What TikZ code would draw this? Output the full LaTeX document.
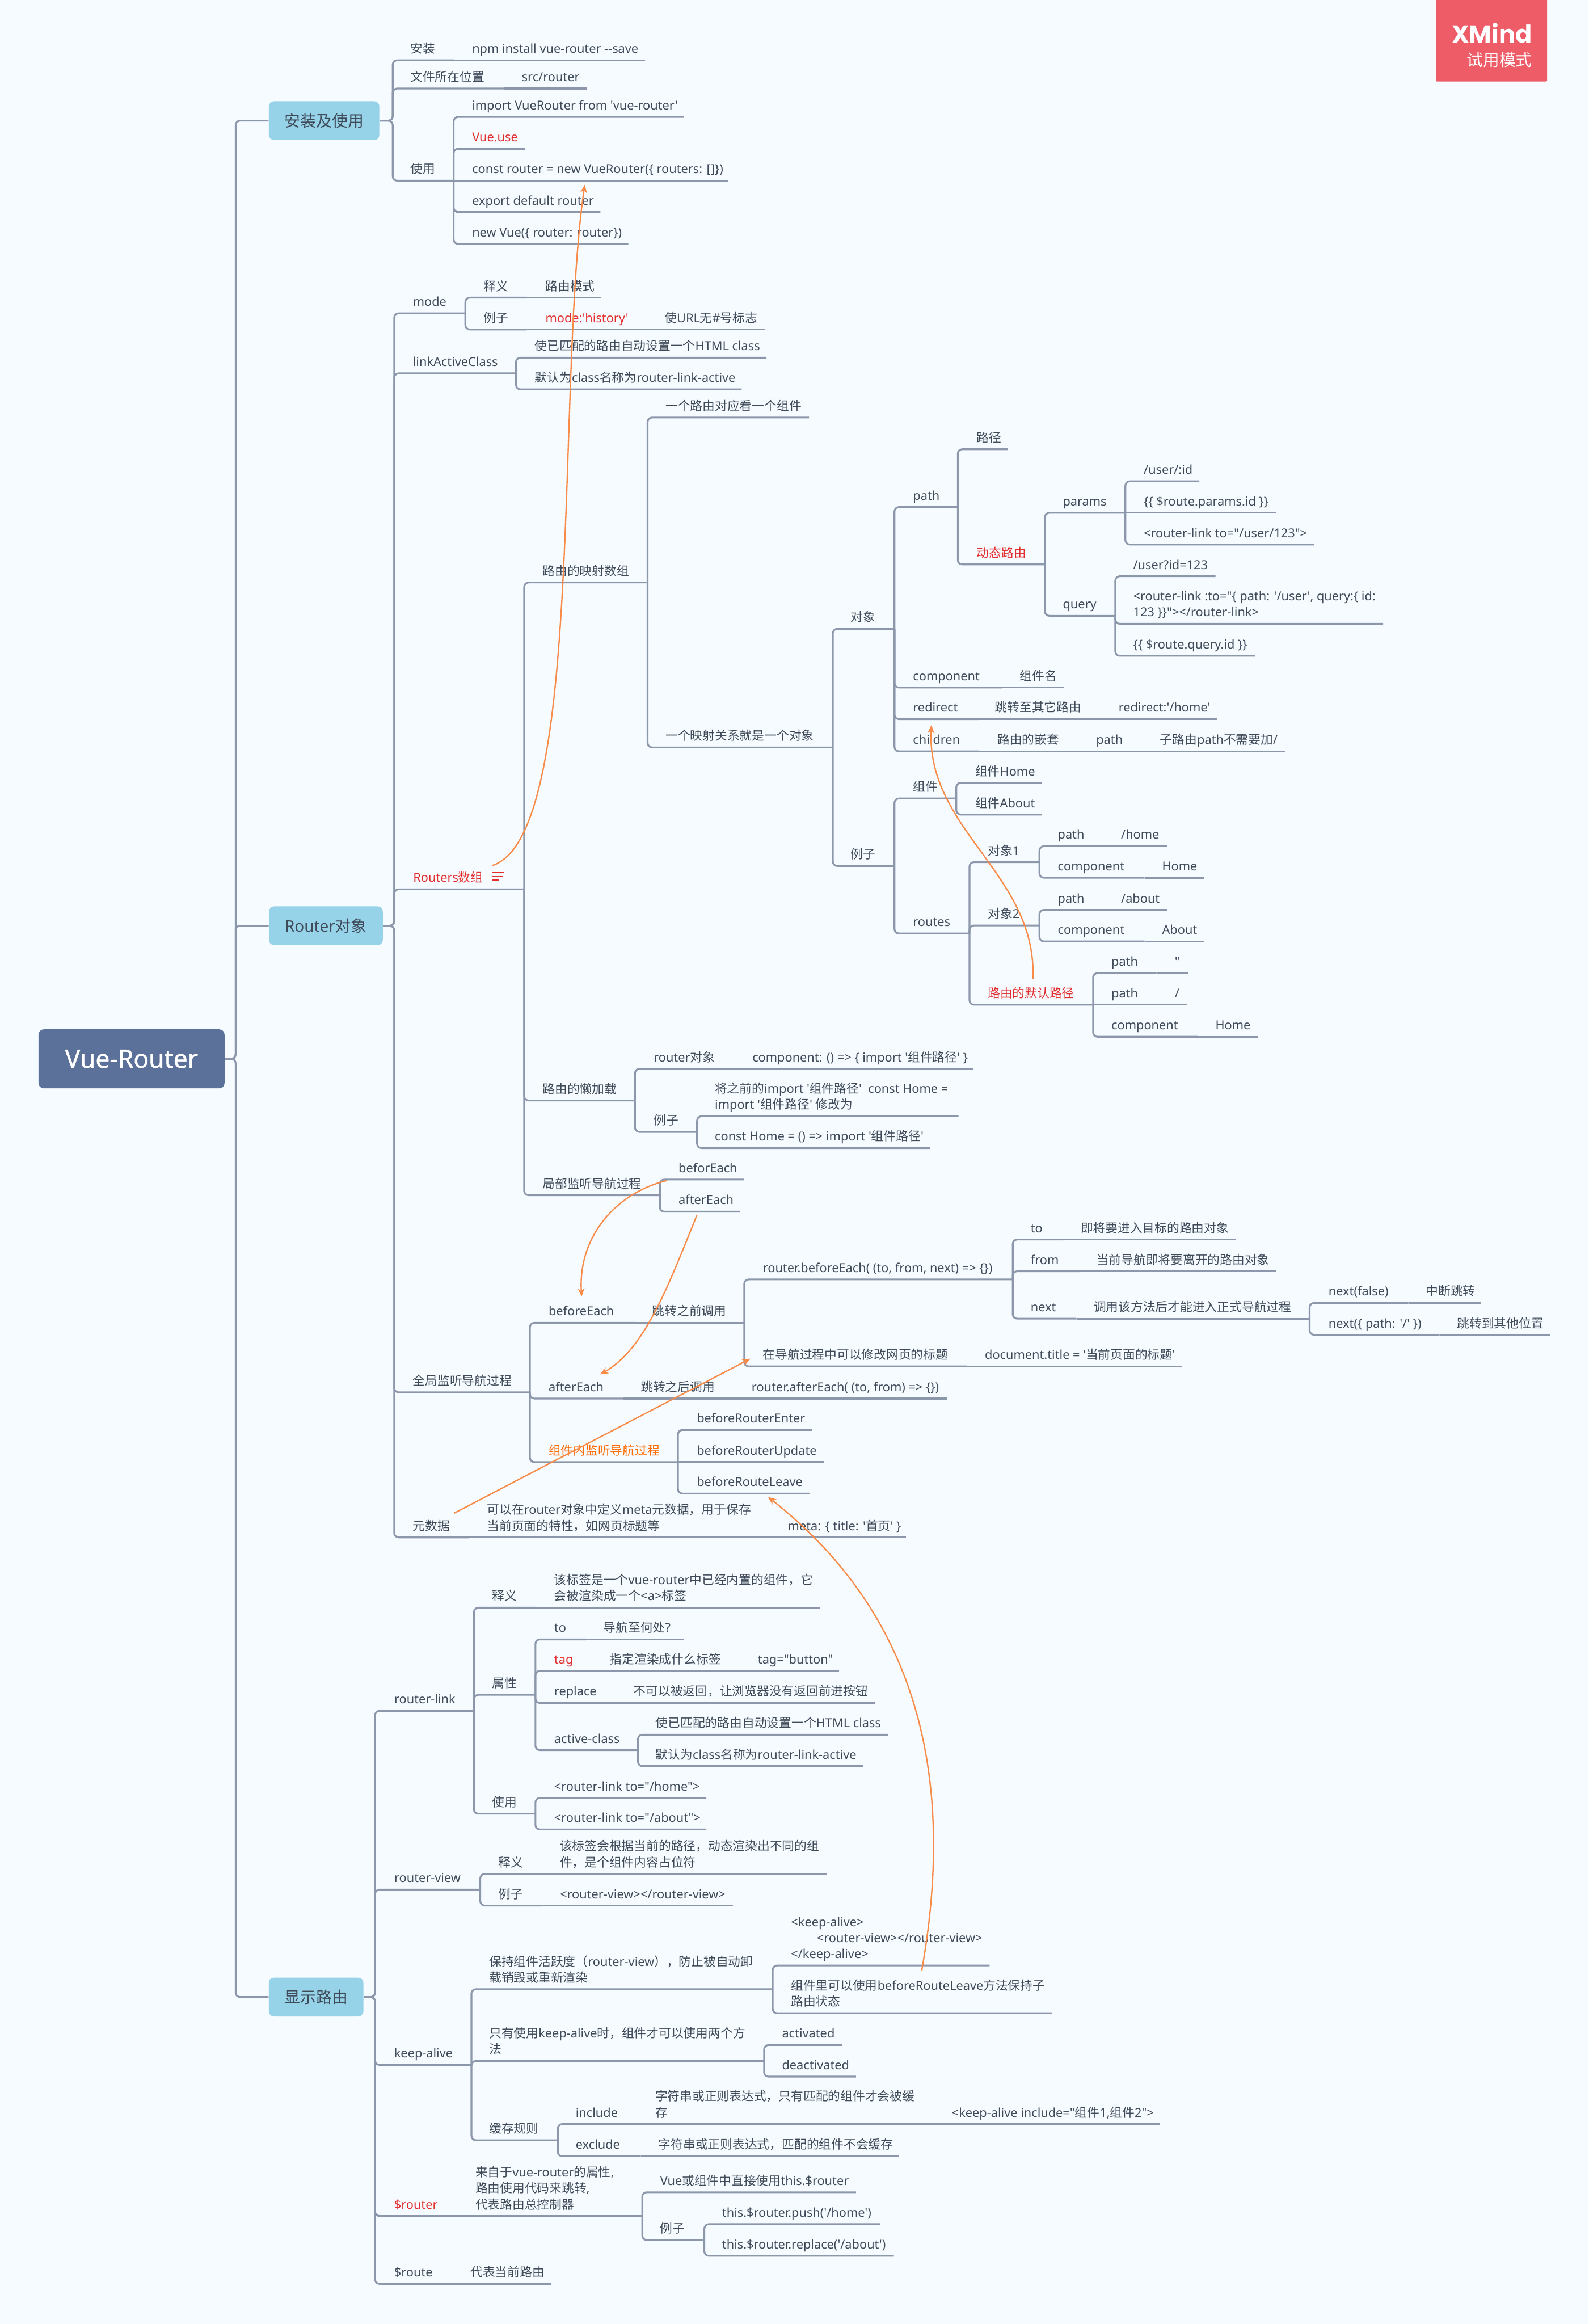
\documentclass[tikz,border=0pt]{standalone}
\usepackage{fontspec}
\usetikzlibrary{arrows.meta}
\setmainfont{Noto Sans}
\newfontfamily\latinf{Noto Sans}
\newfontfamily\cjkf{Noto Sans CJK SC}
\newfontfamily\brandf{Poppins}
\newfontfamily\rootf[RawFeature={embolden=1.1}]{Noto Sans}
% CJK characters switch to the CJK font automatically
\chardef\cjkclass=50
\newcount\cjkc
\cjkc="4E00 \loop \XeTeXcharclass\cjkc=\cjkclass \advance\cjkc 1 \ifnum\cjkc<"A000 \repeat
\cjkc="3000 \loop \XeTeXcharclass\cjkc=\cjkclass \advance\cjkc 1 \ifnum\cjkc<"3040 \repeat
\cjkc="FF00 \loop \XeTeXcharclass\cjkc=\cjkclass \advance\cjkc 1 \ifnum\cjkc<"FFF0 \repeat
\XeTeXinterchartokenstate=1
\XeTeXinterchartoks 0 \cjkclass={\cjkf}
\XeTeXinterchartoks 4095 \cjkclass={\cjkf}
\XeTeXinterchartoks \cjkclass 0={\latinf}
\XeTeXinterchartoks \cjkclass 4095={\latinf}
\definecolor{bgc}{HTML}{F5FBFF}
\definecolor{linec}{HTML}{8C97AB}
\definecolor{txt}{HTML}{3F4A59}
\definecolor{orangec}{HTML}{F98B48}
\definecolor{redc}{HTML}{E32D2D}
\definecolor{orangetxt}{HTML}{FF6A00}
\definecolor{lonec}{HTML}{96D2E8}
\definecolor{rootc}{HTML}{5B7199}
\definecolor{badgec}{HTML}{EE5C68}
\tikzset{
  topic/.style={anchor=south west,inner xsep=0pt,inner ysep=4.6pt,text depth=0pt,font=\latinf\fontsize{8.33}{10}\selectfont},
  conn/.style={draw=linec,line width=1.2pt,rounded corners=3pt},
  rel/.style={draw=orangec,line width=0.9pt,-{Stealth[length=5.5pt,width=4.5pt]}},
  lone/.style={rectangle,rounded corners=3.5pt,fill=lonec,text=txt,inner sep=0pt,font=\latinf\fontsize{10.7}{12}\selectfont},
  rootnode/.style={rectangle,rounded corners=3.5pt,fill=rootc,text=white,inner sep=0pt,font=\rootf\fontsize{17}{18}\selectfont},
}
\newcommand\LL[2]{\vbox{\baselineskip=10.8pt\lineskiplimit=-20pt\hbox{#1}\hbox{#2}}}
\newcommand\LLL[3]{\vbox{\baselineskip=10.8pt\lineskiplimit=-20pt\hbox{#1}\hbox{#2}\hbox{#3}}}
% \T[colour]{name}{parent}{x0}{x1}{y}{text x}{text}
\newcommand\T[8][txt]{%
  \pgfmathsetlengthmacro\tw{#5-#4}\pgfmathsetlengthmacro\tpad{#7-#4}%
  \node[topic,text=#1] (#2) at (#4,#6) {\makebox[\tw][l]{\hspace*{\tpad}#8}};
  \pgfpointanchor{#3}{south east}\pgfgetlastxy\pxa\pya
  \pgfpointanchor{#2}{south east}\pgfgetlastxy\pxb\pyb
  \pgfmathparse{abs(\pya-\pyb)<0.1?1:0}%
  \ifnum\pgfmathresult=1
    \draw[conn] (#3.south east) -- (#2.south east);
  \else
    \draw[conn] (#3.south east) |- (#2.south east);
  \fi
}
% \U{name}{L1 parent}{stub}{x1}{y}{text x}{text}
\newcommand\U[8][txt]{%
  \pgfmathsetlengthmacro\tw{#5-#4}\pgfmathsetlengthmacro\tpad{#7-#4}%
  \node[topic,text=#1] (#2) at (#4,#6) {\makebox[\tw][l]{\hspace*{\tpad}#8}};
  \draw[conn] (#3.east) -- (#4,\ypos{#3}) |- (#2.south east);
}
\def\ypos#1{\csname ly#1\endcsname}
\def\lya{81.4}
\def\lyb{624.6}
\def\lyc{1347.4}
\begin{document}
\begin{tikzpicture}[x=1pt,y=-1pt]
\fill[bgc] (0,0) rectangle (1072,1568);
\useasboundingbox (0,0) rectangle (1072,1568);
% badge
\fill[badgec,rounded corners=0.6pt] (969,-2) rectangle (1044,55);
\node[anchor=base east,text=white,inner sep=0pt,font=\brandf\bfseries\fontsize{16.5}{18}\selectfont] (brand) at (1034,29) {XMind};
\node[anchor=base east,text=white,inner sep=0pt,font=\cjkf\fontsize{11}{12}\selectfont] (trial) at (1034,44.6) {试用模式};
% root and main topics
\node[rootnode,minimum width=125.5pt,minimum height=39.8pt] (root) at (88.75,714.4) {Vue-Router};
\node[lone,minimum width=74.6pt,minimum height=26.2pt] (a) at (218.7,81.4) {安装及使用};
\node[lone,minimum width=76.8pt,minimum height=26.2pt] (b) at (219.9,624.6) {Router对象};
\node[lone,minimum width=63.8pt,minimum height=26.2pt] (c) at (213.3,1347.4) {显示路由};
\draw[conn] (root.east) -- (159,714.4) |- (a.west);
\draw[conn] (root.east) -- (159,714.4) |- (b.west);
\draw[conn] (root.east) -- (159,714.4) |- (c.west);
% ---- 安装及使用
\U{a1}{a}{265}{306}{40.7}{276.7}{安装}
\T{a1a}{a1}{306}{434.9}{40.7}{318.4}{npm install vue-router --save}
\U{a2}{a}{265}{340}{59.7}{276.7}{文件所在位置}
\T{a2a}{a2}{340}{395.6}{59.7}{351.9}{src/router}
\U{a3}{a}{265}{305.7}{121.9}{276.7}{使用}
\T{a3a}{a3}{305.7}{460.8}{78.9}{318.4}{import VueRouter from 'vue-router'}
\T[redc]{a3b}{a3}{305.7}{353.9}{100.4}{318.4}{Vue.use}
\T{a3c}{a3}{305.7}{491.2}{121.9}{318.4}{const router = new VueRouter(\{ routers: []\})}
\T{a3d}{a3}{305.7}{404.8}{143.1}{318.4}{export default router}
\T{a3e}{a3}{305.7}{423.6}{164.6}{318.4}{new Vue(\{ router: router\})}
% ---- Router对象
\U{m}{b}{266}{313.6}{211.4}{278.4}{mode}
\T{m1}{m}{313.6}{355}{200.8}{326.2}{释义}
\T{m1a}{m1}{355}{405.5}{200.8}{367.9}{路由模式}
\T{m2}{m}{313.6}{355}{222.3}{326.2}{例子}
\T[redc]{m2a}{m2}{355}{436}{222.3}{367.9}{mode:'history'}
\T{m2b}{m2a}{436}{515.8}{222.3}{448.2}{使URL无\#号标志}
\U{l}{b}{266}{347.8}{251.9}{278.4}{linkActiveClass}
\T{l1}{l}{347.8}{516.8}{241.3}{360.7}{使已匹配的路由自动设置一个HTML class}
\T{l2}{l}{347.8}{500.1}{262.7}{360.7}{默认为class名称为router-link-active}
\U[redc]{r}{b}{266}{353.3}{600}{278.6}{Routers数组}
\draw[redc,line width=0.8pt] (332.3,588.9) -- (339.8,588.9) (332.3,591.3) -- (339,591.3) (332.3,593.8) -- (336.7,593.8);
\T{r1}{r}{353.3}{436.6}{393}{366}{路由的映射数组}
\T{r1a}{r1}{436.6}{545.5}{281.7}{449}{一个路由对应看一个组件}
\T{r1b}{r1}{436.6}{561.6}{504.3}{449}{一个映射关系就是一个对象}
\T{o}{r1b}{561.6}{603.2}{424.3}{573.9}{对象}
\T{op}{o}{603.2}{645.9}{342.1}{615.9}{path}
\T{op1}{op}{645.9}{679.8}{303.1}{658.9}{路径}
\T[redc]{op2}{op}{645.9}{704.7}{380.8}{658.9}{动态路由}
\T{par}{op2}{704.7}{759}{346}{717}{params}
\T{par1}{par}{759}{808.9}{324.7}{771.6}{/user/:id}
\T{par2}{par}{759}{860.8}{346}{771.6}{\{\{ \$route.params.id \}\}}
\T{par3}{par}{759}{886.4}{367.4}{771.6}{<router-link to="/user/123">}
\T{q}{op2}{704.7}{752.2}{415.5}{717}{query}
\T{q1}{q}{752.2}{819.8}{388.8}{764.5}{/user?id=123}
\T{q2}{q}{752.2}{932.9}{420.9}{764.5}{\LL{<router-link :to="\{ path: '/user', query:\{ id:}{123 \}\}"></router-link>}}
\T{q3}{q}{752.2}{846.5}{442.5}{764.5}{\{\{ \$route.query.id \}\}}
\T{oc}{o}{603.2}{676}{463.9}{615.9}{component}
\T{oca}{oc}{676}{717.3}{463.9}{688}{组件名}
\T{ore}{o}{603.2}{660}{485.2}{615.9}{redirect}
\T{orea}{ore}{660}{743}{485.2}{671.2}{跳转至其它路由}
\T{oreb}{orea}{743}{820.8}{485.2}{754.6}{redirect:'/home'}
\T{och}{o}{603.2}{660}{506.9}{615.9}{children}
\T{ocha}{och}{660}{727}{506.9}{672.9}{路由的嵌套}
\T{ochb}{ocha}{727}{770}{506.9}{739.5}{path}
\T{ochc}{ochb}{770}{866.6}{506.9}{782.6}{子路由path不需要加/}
\T{e}{r1b}{561.6}{603.2}{584.3}{573.9}{例子}
\T{e1}{e}{603.2}{644.9}{538.7}{615.9}{组件}
\T{e1a}{e1}{644.9}{702.6}{528.2}{657.9}{组件Home}
\T{e1b}{e1}{644.9}{702.6}{549.6}{657.9}{组件About}
\T{e2}{e}{603.2}{653.8}{629.8}{615.9}{routes}
\T{d1}{e2}{653.8}{701}{581.7}{666.4}{对象1}
\T{d1a}{d1}{701}{744}{570.9}{713.6}{path}
\T{d1b}{d1a}{744}{787}{570.9}{756.3}{/home}
\T{d1c}{d1}{701}{772}{592.2}{713.6}{component}
\T{d1d}{d1c}{772}{812}{592.2}{784}{Home}
\T{d2}{e2}{653.8}{701}{624.4}{666.4}{对象2}
\T{d2a}{d2}{701}{744}{613.9}{713.6}{path}
\T{d2b}{d2a}{744}{787}{613.9}{756.3}{/about}
\T{d2c}{d2}{701}{772}{635.2}{713.6}{component}
\T{d2d}{d2c}{772}{812}{635.2}{784}{About}
\T[redc]{d3}{e2}{653.8}{737.2}{677.9}{666.4}{路由的默认路径}
\T{d3a}{d3}{737.2}{780}{656.6}{749.8}{path}
\T{d3b}{d3a}{780}{801.4}{656.6}{792.5}{''}
\T{d3c}{d3}{737.2}{780}{677.9}{749.8}{path}
\T{d3d}{d3c}{780}{800.7}{677.9}{792.5}{/}
\T{d3e}{d3}{737.2}{808}{699.5}{749.8}{component}
\T{d3f}{d3e}{808}{848.2}{699.5}{820}{Home}
\T{r2}{r}{353.3}{428.1}{742.5}{366}{路由的懒加载}
\T{r2a}{r2}{428.1}{495}{721.1}{440.9}{router对象}
\T{r2b}{r2a}{495}{656.6}{721.1}{507.5}{component: () => \{ import '组件路径' \}}
\T{r2c}{r2}{428.1}{470}{763.7}{440.9}{例子}
\T{r2d}{r2c}{470}{646.4}{753.1}{482.2}{\LL{将之前的import '组件路径'\ \ const Home =}{import '组件路径' 修改为}}
\T{r2e}{r2c}{470}{627.3}{774.6}{482.2}{const Home = () => import '组件路径'}
\T{r3}{r}{353.3}{444.9}{806.4}{366}{局部监听导航过程}
\T{r3a}{r3}{444.9}{501.8}{795.8}{457.7}{beforEach}
\T{r3b}{r3}{444.9}{499}{817.5}{457.7}{afterEach}
\U{g}{b}{266}{357.2}{939.4}{278.4}{全局监听导航过程}
\T{g1}{g}{357.2}{428}{892.5}{370}{beforeEach}
\T{g1a}{g1}{428}{501.8}{892.5}{440}{跳转之前调用}
\T{g1b}{g1a}{501.8}{683}{863.2}{514.6}{router.beforeEach( (to, from, next) => \{\})}
\T{g2}{g1b}{683}{717}{836.3}{695.3}{to}
\T{g2a}{g2}{717}{833.5}{836.3}{729.1}{即将要进入目标的路由对象}
\T{g3}{g1b}{683}{728}{857.7}{695.3}{from}
\T{g3a}{g3}{728}{860.9}{857.7}{739.8}{当前导航即将要离开的路由对象}
\T{g4}{g1b}{683}{726}{889.7}{695.3}{next}
\T{g4a}{g4}{726}{883.3}{889.7}{737.9}{调用该方法后才能进入正式导航过程}
\T{g5}{g4a}{883.3}{950}{879.1}{896.3}{next(false)}
\T{g5a}{g5}{950}{999.3}{879.1}{962}{中断跳转}
\T{g6}{g4a}{883.3}{971}{900.6}{896.3}{next(\{ path: '/' \})}
\T{g6a}{g6}{971}{1045.9}{900.6}{983.1}{跳转到其他位置}
\T{g7}{g1a}{501.8}{652}{921.9}{514.6}{在导航过程中可以修改网页的标题}
\T{g7a}{g7}{652}{797}{921.9}{664.4}{document.title = '当前页面的标题'}
\T{h}{g}{357.2}{420}{943.6}{370}{afterEach}
\T{ha}{h}{420}{495}{943.6}{432.1}{跳转之后调用}
\T{hb}{ha}{495}{638.7}{943.6}{507}{router.afterEach( (to, from) => \{\})}
\T[orangetxt]{i}{g}{357.2}{457.1}{986.5}{370}{组件内监听导航过程}
\T{i1}{i}{457.1}{547.6}{964.8}{470}{beforeRouterEnter}
\T{i2}{i}{457.1}{555.3}{986.5}{470}{beforeRouterUpdate}
\T{i3}{i}{457.1}{546}{1007.7}{470}{beforeRouteLeave}
\U{j}{b}{266}{316}{1037.3}{278.4}{元数据}
\T{ja}{j}{316}{520}{1037.3}{328.5}{\LL{可以在router对象中定义meta元数据，用于保存}{当前页面的特性，如网页标题等}}
\T{jb}{ja}{520}{610.8}{1037.3}{531.4}{meta: \{ title: '首页' \}}
% ---- 显示路由
\U{k}{c}{253.1}{319.4}{1154.3}{265.9}{router-link}
\T{k1}{k}{319.4}{362}{1084.7}{331.9}{释义}
\T{k1a}{k1}{362}{553.1}{1084.7}{373.8}{\LL{该标签是一个vue-router中已经内置的组件，它}{会被渲染成一个<a>标签}}
\T{k2}{k}{319.4}{360.9}{1143.5}{331.9}{属性}
\T{k2a}{k2}{360.9}{395}{1106.1}{373.8}{to}
\T{k2b}{k2a}{395}{461.4}{1106.1}{407}{导航至何处?}
\T[redc]{k2c}{k2}{360.9}{399}{1127.3}{373.8}{tag}
\T{k2d}{k2c}{399}{499}{1127.3}{411.3}{指定渲染成什么标签}
\T{k2e}{k2d}{499}{565.6}{1127.3}{511.2}{tag="button"}
\T{k2f}{k2}{360.9}{415}{1149}{373.8}{replace}
\T{k2g}{k2f}{415}{590}{1149}{427.3}{不可以被返回，让浏览器没有返回前进按钮}
\T{k2h}{k2}{360.9}{430.1}{1180.8}{373.8}{active-class}
\T{k2i}{k2h}{430.1}{598.9}{1170.4}{442.3}{使已匹配的路由自动设置一个HTML class}
\T{k2j}{k2h}{430.1}{582.1}{1191.6}{442.3}{默认为class名称为router-link-active}
\T{k3}{k}{319.4}{360.9}{1223.7}{331.9}{使用}
\T{k3a}{k3}{360.9}{476.2}{1213.1}{373.8}{<router-link to="/home">}
\T{k3b}{k3}{360.9}{476.2}{1234.3}{373.8}{<router-link to="/about">}
\U{v}{c}{253.1}{323.7}{1274.9}{265.9}{router-view}
\T{v1}{v}{323.7}{365.5}{1264.3}{336.2}{释义}
\T{v1a}{v1}{365.5}{557.3}{1264.3}{377.7}{\LL{该标签会根据当前的路径，动态渲染出不同的组}{件，是个组件内容占位符}}
\T{v2}{v}{323.7}{365.5}{1285.7}{336.2}{例子}
\T{v2a}{v2}{365.5}{494.1}{1285.7}{377.7}{<router-view></router-view>}
\U{w}{c}{253.1}{317.7}{1393.2}{265.8}{keep-alive}
\T{w1}{w}{317.7}{521}{1342.1}{329.9}{\LL{保持组件活跃度（router-view），防止被自动卸}{载销毁或重新渲染}}
\T{w1a}{w1}{521}{667.4}{1326.1}{533.6}{\LLL{<keep-alive>}{\hspace*{17.4pt}<router-view></router-view>}{</keep-alive>}}
\T{w1b}{w1}{521}{709.5}{1358.3}{533.6}{\LL{组件里可以使用beforeRouteLeave方法保持子}{路由状态}}
\T{w2}{w}{317.7}{515.2}{1390.5}{329.9}{\LL{只有使用keep-alive时，组件才可以使用两个方}{法}}
\T{w2a}{w2}{515.2}{567.9}{1379.8}{527.5}{activated}
\T{w2b}{w2}{515.2}{577.2}{1401.1}{527.5}{deactivated}
\T{w3}{w}{317.7}{376}{1444}{329.9}{缓存规则}
\T{w3a}{w3}{376}{430}{1433.1}{388.3}{include}
\T{w3b}{w3a}{430}{630}{1433.1}{442}{\LL{字符串或正则表达式，只有匹配的组件才会被缓}{存}}
\T{w3c}{w3b}{630}{782}{1433.1}{642.1}{<keep-alive include="组件1,组件2">}
\T{w3d}{w3}{376}{432}{1454.8}{388.3}{exclude}
\T{w3e}{w3d}{432}{606.4}{1454.8}{444.2}{字符串或正则表达式，匹配的组件不会缓存}
\U[redc]{x}{c}{253.1}{308}{1495.1}{265.8}{\$router}
\T{xa}{x}{308}{433}{1495.1}{320.6}{\LLL{来自于vue-router的属性,}{路由使用代码来跳转,}{代表路由总控制器}}
\T{x1}{xa}{433}{577.2}{1479.1}{445.3}{Vue或组件中直接使用this.\$router}
\T{x2}{xa}{433}{474.9}{1511.3}{445.3}{例子}
\T{x2a}{x2}{474.9}{593.5}{1500.6}{487.1}{this.\$router.push('/home')}
\T{x2b}{x2}{474.9}{602.8}{1522}{487.1}{this.\$router.replace('/about')}
\U{y}{c}{253.1}{305}{1540.9}{265.8}{\$route}
\T{ya}{y}{305}{371.4}{1540.9}{317.3}{代表当前路由}
% ---- relationship curves
\coordinate (c1s) at (332,584);
\coordinate (c1e) at (394.6,124.6);
\draw[rel] (c1s) .. controls (395,565) and (375,260) .. (c1e);
\coordinate (c2s) at (697,660.6);
\coordinate (c2e) at (628.5,489.2);
\draw[rel] (c2s) .. controls (700,590) and (625,560) .. (c2e);
\coordinate (c3s) at (450,796.5);
\coordinate (c3e) at (392.5,874.8);
\draw[rel] (c3s) .. controls (415,805) and (390,835) .. (c3e);
\coordinate (c4s) at (470.2,820);
\coordinate (c4e) at (405,927.3);
\draw[rel] (c4s) .. controls (450,870) and (435,910) .. (c4e);
\coordinate (c5s) at (306.3,1021);
\coordinate (c5e) at (506.4,916.7);
\draw[rel] (c5s) -- (c5e);
\coordinate (c6s) at (622,1329.4);
\coordinate (c6e) at (518.3,1010);
\draw[rel] (c6s) .. controls (645,1200) and (620,1090) .. (c6e);
\end{tikzpicture}
\end{document}
